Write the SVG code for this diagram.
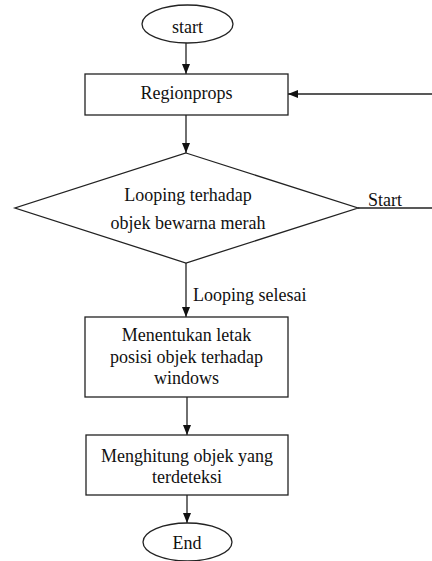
<svg xmlns="http://www.w3.org/2000/svg" width="432" height="561" viewBox="0 0 432 561">
<style>
.s{fill:#fff;stroke:#222;stroke-width:1.3}
.t{font-family:'Liberation Serif','DejaVu Serif',serif;font-size:18px;fill:#111;text-anchor:middle}
.l{font-family:'Liberation Serif','DejaVu Serif',serif;font-size:18px;fill:#111}
.c{fill:none;stroke:#222;stroke-width:1.3}
</style>
<defs>
<marker id="a" viewBox="0 0 10 10" refX="10" refY="5" markerWidth="10" markerHeight="10" markerUnits="userSpaceOnUse" orient="auto">
<path d="M0,1 L10,5 L0,9 Z" fill="#111"/>
</marker>
</defs>
<rect width="432" height="561" fill="#fff"/>
<g id="connectors">
<line class="c" x1="186" y1="43" x2="186" y2="74" marker-end="url(#a)"/>
<line class="c" x1="186" y1="115" x2="186" y2="153" marker-end="url(#a)"/>
<polyline class="c" points="358,208 432,208"/>
<line class="c" x1="432" y1="94" x2="288" y2="94" marker-end="url(#a)"/>
<line class="c" x1="186" y1="263" x2="186" y2="317" marker-end="url(#a)"/>
<text class="l" x="368" y="206">Start</text>
<text class="l" x="193" y="301">Looping selesai</text>
<line class="c" x1="187" y1="397" x2="187" y2="435" marker-end="url(#a)"/>
<line class="c" x1="187" y1="495" x2="187" y2="523" marker-end="url(#a)"/>
</g>
<g id="start">
<ellipse class="s" cx="187.5" cy="24" rx="45.5" ry="19"/>
<text class="t" x="187.5" y="33">start</text>
</g>
<g id="regionprops">
<rect class="s" x="85" y="74" width="203" height="41"/>
<text class="t" x="186.5" y="99">Regionprops</text>
</g>
<g id="looping">
<polygon class="s" points="186,153 358,208 186,263 15,208"/>
<text class="t" x="188" y="201">Looping terhadap</text>
<text class="t" x="188" y="229">objek bewarna merah</text>
</g>
<g id="menentukan">
<rect class="s" x="85" y="317" width="203" height="80"/>
<text class="t" x="186.5" y="341">Menentukan letak</text>
<text class="t" x="186.5" y="363">posisi objek terhadap</text>
<text class="t" x="186.5" y="384">windows</text>
</g>
<g id="menghitung">
<rect class="s" x="86" y="435" width="202" height="60"/>
<text class="t" x="187" y="462">Menghitung objek yang</text>
<text class="t" x="187" y="483">terdeteksi</text>
</g>
<g id="end">
<ellipse class="s" cx="187.5" cy="542" rx="44.5" ry="19"/>
<text class="t" x="187" y="549">End</text>
</g>
</svg>
